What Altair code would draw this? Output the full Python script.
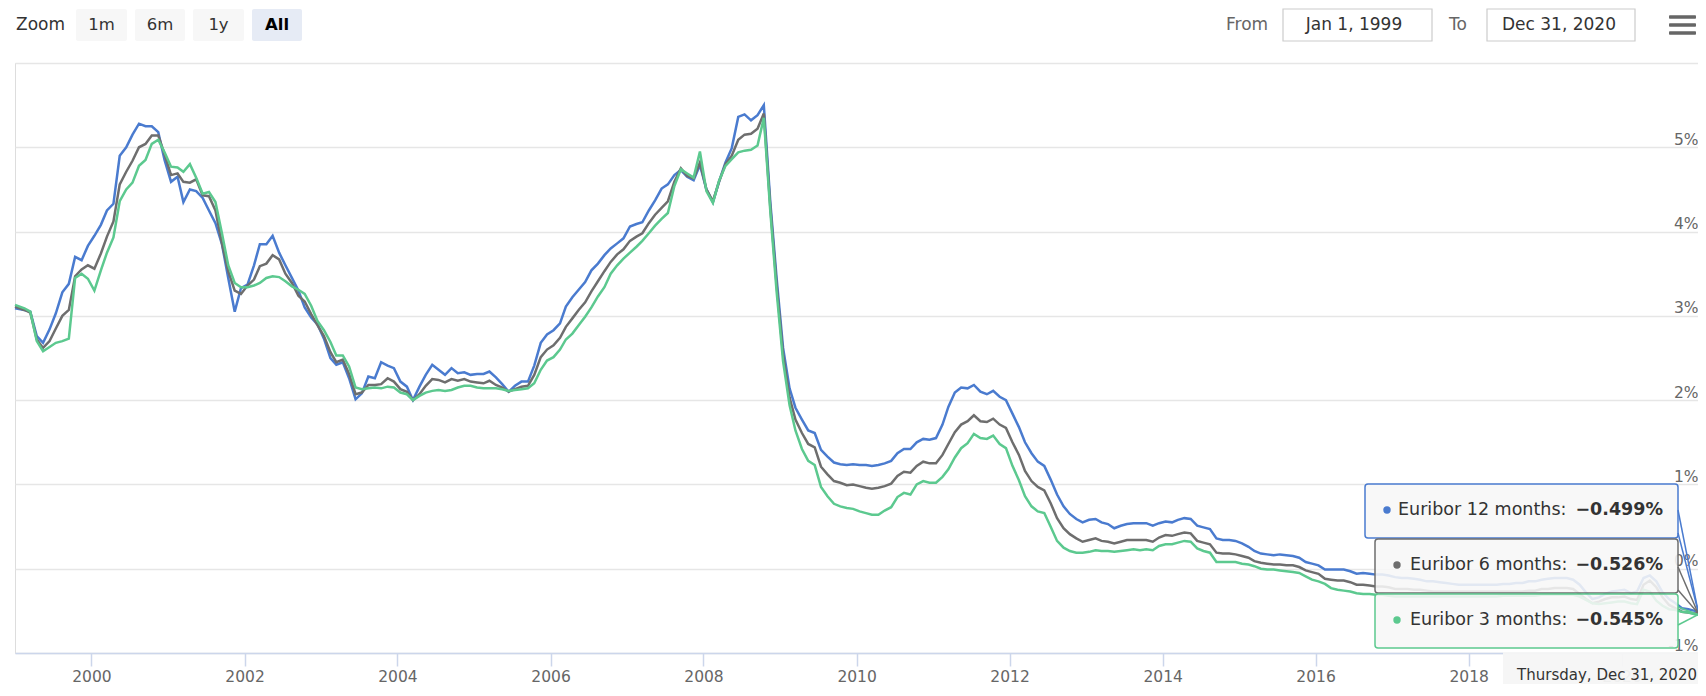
import altair as alt
import pandas as pd

FONT = "DejaVu Sans"

years = list(range(1999, 2021))
series_names = ["Euribor 12 months", "Euribor 6 months", "Euribor 3 months"]
series_colors = ["#4A7BCF", "#6E6E6E", "#5CC98F"]

# monthly readings (mid-month), 1999-2020
eur12 = [
    3.09, 3.07, 3.05, 2.76, 2.68, 2.84, 3.03, 3.28, 3.38, 3.70, 3.66, 3.83,
    3.95, 4.08, 4.25, 4.33, 4.90, 5.00, 5.15, 5.28, 5.25, 5.25, 5.18, 4.85,
    4.59, 4.65, 4.35, 4.50, 4.48, 4.40, 4.25, 4.10, 3.85, 3.45, 3.05, 3.33,
    3.37, 3.60, 3.85, 3.85, 3.95, 3.75, 3.60, 3.45, 3.30, 3.10, 2.98, 2.90,
    2.73, 2.50, 2.42, 2.45, 2.26, 2.01, 2.08, 2.28, 2.26, 2.45, 2.41, 2.38,
    2.22, 2.16, 2.00, 2.16, 2.30, 2.42, 2.36, 2.30, 2.38, 2.32, 2.33, 2.30,
    2.31, 2.31, 2.34, 2.27, 2.19, 2.10, 2.17, 2.22, 2.22, 2.41, 2.68, 2.78,
    2.83, 2.91, 3.11, 3.22, 3.31, 3.40, 3.54, 3.62, 3.72, 3.80, 3.86, 3.92,
    4.06, 4.09, 4.11, 4.25, 4.37, 4.51, 4.56, 4.67, 4.73, 4.65, 4.61, 4.79,
    4.50, 4.35, 4.59, 4.82, 4.99, 5.36, 5.39, 5.32, 5.38, 5.50, 4.35, 3.45,
    2.62, 2.14, 1.91, 1.77, 1.64, 1.61, 1.41, 1.33, 1.26, 1.24, 1.23, 1.24,
    1.23, 1.23, 1.22, 1.23, 1.25, 1.28, 1.37, 1.42, 1.42, 1.50, 1.54, 1.53,
    1.55, 1.71, 1.92, 2.09, 2.15, 2.14, 2.18, 2.10, 2.07, 2.11, 2.04, 2.00,
    1.84, 1.68, 1.50, 1.37, 1.27, 1.22, 1.06, 0.88, 0.74, 0.65, 0.59, 0.55,
    0.58, 0.59, 0.55, 0.53, 0.48, 0.51, 0.53, 0.54, 0.54, 0.54, 0.51, 0.54,
    0.56, 0.55, 0.58, 0.60, 0.59, 0.51, 0.49, 0.47, 0.36, 0.34, 0.34, 0.33,
    0.30, 0.26, 0.21, 0.18, 0.17, 0.16, 0.17, 0.16, 0.15, 0.13, 0.08, 0.06,
    0.04, -0.01, -0.01, -0.01, -0.01, -0.03, -0.06, -0.05, -0.06, -0.07, -0.07, -0.08,
    -0.10, -0.11, -0.11, -0.12, -0.13, -0.15, -0.15, -0.16, -0.17, -0.18, -0.19, -0.19,
    -0.19, -0.19, -0.19, -0.19, -0.19, -0.18, -0.18, -0.17, -0.17, -0.15, -0.15, -0.13,
    -0.12, -0.11, -0.11, -0.11, -0.13, -0.19, -0.28, -0.36, -0.34, -0.30, -0.27, -0.26,
    -0.25, -0.29, -0.27, -0.11, -0.08, -0.15, -0.28, -0.36, -0.41, -0.47, -0.48, -0.50,
]
eur6 = [
    3.11, 3.07, 3.04, 2.72, 2.62, 2.70, 2.85, 3.00, 3.07, 3.47, 3.55, 3.60,
    3.56, 3.74, 3.94, 4.12, 4.56, 4.71, 4.84, 5.00, 5.04, 5.14, 5.14, 4.92,
    4.67, 4.69, 4.59, 4.58, 4.62, 4.43, 4.42, 4.25, 3.86, 3.53, 3.30, 3.26,
    3.36, 3.43, 3.59, 3.62, 3.72, 3.67, 3.50, 3.39, 3.24, 3.17, 3.02, 2.89,
    2.76, 2.57, 2.45, 2.48, 2.31, 2.07, 2.09, 2.18, 2.18, 2.19, 2.26, 2.22,
    2.13, 2.10, 2.00, 2.07, 2.17, 2.25, 2.24, 2.21, 2.25, 2.23, 2.25, 2.22,
    2.21, 2.20, 2.23, 2.18, 2.15, 2.10, 2.13, 2.16, 2.17, 2.30, 2.51, 2.60,
    2.65, 2.74, 2.87, 2.97, 3.07, 3.16, 3.29, 3.41, 3.53, 3.64, 3.73, 3.79,
    3.89, 3.94, 3.98, 4.10, 4.20, 4.28, 4.36, 4.59, 4.75, 4.66, 4.63, 4.82,
    4.50, 4.36, 4.59, 4.80, 4.90, 5.09, 5.15, 5.16, 5.22, 5.40, 4.29, 3.37,
    2.54, 2.03, 1.77, 1.61, 1.48, 1.44, 1.21, 1.12, 1.04, 1.02, 0.99, 1.00,
    0.98, 0.96, 0.95, 0.96, 0.98, 1.01, 1.10, 1.15, 1.14, 1.22, 1.27, 1.25,
    1.25, 1.35, 1.48, 1.62, 1.71, 1.75, 1.82, 1.75, 1.74, 1.78, 1.71, 1.67,
    1.50, 1.35, 1.16, 1.04, 0.97, 0.93, 0.78, 0.60, 0.48, 0.41, 0.36, 0.32,
    0.34, 0.36, 0.33, 0.32, 0.30, 0.32, 0.34, 0.34, 0.34, 0.34, 0.32, 0.37,
    0.40, 0.39, 0.41, 0.43, 0.42, 0.33, 0.31, 0.29, 0.19, 0.18, 0.18, 0.17,
    0.15, 0.13, 0.09, 0.07, 0.06, 0.05, 0.05, 0.04, 0.04, 0.02, -0.02, -0.04,
    -0.06, -0.12, -0.13, -0.14, -0.14, -0.16, -0.19, -0.19, -0.20, -0.21, -0.21, -0.22,
    -0.24, -0.24, -0.24, -0.25, -0.25, -0.26, -0.27, -0.27, -0.27, -0.27, -0.27, -0.27,
    -0.27, -0.27, -0.27, -0.27, -0.27, -0.27, -0.27, -0.27, -0.27, -0.26, -0.26, -0.24,
    -0.24, -0.23, -0.23, -0.23, -0.24, -0.30, -0.36, -0.41, -0.39, -0.36, -0.34, -0.34,
    -0.33, -0.36, -0.37, -0.19, -0.14, -0.22, -0.34, -0.43, -0.47, -0.51, -0.52, -0.53,
]
eur3 = [
    3.13, 3.09, 3.05, 2.70, 2.58, 2.63, 2.68, 2.70, 2.73, 3.45, 3.50, 3.44,
    3.30, 3.54, 3.75, 3.93, 4.36, 4.50, 4.58, 4.78, 4.85, 5.04, 5.09, 4.94,
    4.77, 4.76, 4.71, 4.80, 4.64, 4.45, 4.47, 4.35, 3.98, 3.60, 3.39, 3.34,
    3.34, 3.36, 3.39, 3.45, 3.47, 3.46, 3.41, 3.35, 3.31, 3.26, 3.12, 2.94,
    2.83, 2.69, 2.53, 2.53, 2.40, 2.15, 2.13, 2.14, 2.15, 2.14, 2.16, 2.15,
    2.09, 2.07, 2.00, 2.05, 2.09, 2.11, 2.12, 2.11, 2.12, 2.15, 2.17, 2.17,
    2.15, 2.14, 2.14, 2.14, 2.13, 2.11, 2.12, 2.13, 2.14, 2.20, 2.36, 2.47,
    2.51, 2.60, 2.72, 2.79, 2.89, 2.99, 3.10, 3.23, 3.34, 3.50, 3.60, 3.68,
    3.75, 3.82, 3.89, 3.98, 4.07, 4.15, 4.22, 4.54, 4.74, 4.69, 4.64, 4.95,
    4.48, 4.34, 4.60, 4.78, 4.86, 4.94, 4.96, 4.97, 5.02, 5.35, 4.24, 3.29,
    2.46, 1.94, 1.64, 1.42, 1.28, 1.23, 0.97, 0.86, 0.77, 0.74, 0.72, 0.71,
    0.68, 0.66, 0.64, 0.64, 0.69, 0.73, 0.85, 0.90, 0.88, 1.00, 1.04, 1.02,
    1.02, 1.09, 1.18, 1.32, 1.43, 1.49, 1.60, 1.55, 1.54, 1.58, 1.48, 1.43,
    1.22, 1.05, 0.86, 0.74, 0.68, 0.66, 0.50, 0.33, 0.25, 0.21, 0.19, 0.19,
    0.20, 0.22, 0.21, 0.21, 0.20, 0.21, 0.22, 0.23, 0.22, 0.23, 0.22, 0.27,
    0.29, 0.29, 0.31, 0.33, 0.32, 0.24, 0.21, 0.19, 0.08, 0.08, 0.08, 0.08,
    0.06, 0.05, 0.03, 0.00, -0.01, -0.01, -0.02, -0.03, -0.04, -0.05, -0.09, -0.13,
    -0.15, -0.18, -0.23, -0.25, -0.26, -0.27, -0.29, -0.30, -0.30, -0.31, -0.31, -0.32,
    -0.33, -0.33, -0.33, -0.33, -0.33, -0.33, -0.33, -0.33, -0.33, -0.33, -0.33, -0.33,
    -0.33, -0.33, -0.33, -0.33, -0.33, -0.32, -0.32, -0.32, -0.32, -0.32, -0.32, -0.31,
    -0.31, -0.31, -0.31, -0.31, -0.31, -0.33, -0.37, -0.41, -0.42, -0.41, -0.40, -0.39,
    -0.39, -0.41, -0.42, -0.25, -0.27, -0.38, -0.44, -0.48, -0.49, -0.51, -0.52, -0.54,
]
end_date = "2020-12-31"
end_values = [-0.499, -0.526, -0.545]
tooltip_values = ["\u22120.499%", "\u22120.526%", "\u22120.545%"]
y_ticks = [-1, 0, 1, 2, 3, 4, 5, 6]
x_tick_years = list(range(2000, 2021, 2))

# ---- build table
dates = [f"{y}-{m:02d}-15" for y in years for m in range(1, 13)]
dates[0] = "1999-01-01"
rows = []
for name, vals, endv in zip(series_names, [eur12, eur6, eur3], end_values):
    for d, v in zip(dates, vals):
        rows.append({"date": d, "value": v, "series": name})
    rows.append({"date": end_date, "value": endv, "series": name})
df = pd.DataFrame(rows)

W, H = 1683, 590

x_enc = alt.X(
    "date:T",
    title=None,
    scale=alt.Scale(type="utc", domain=[alt.DateTime(year=1999, month=1, date=1, utc=True),
                                        alt.DateTime(year=2020, month=12, date=31, utc=True)]),
    axis=alt.Axis(
        values=[alt.DateTime(year=y, month=1, date=1, utc=True) for y in x_tick_years],
        labelExpr="utcFormat(datum.value, '%Y')",
        grid=False, domainColor="#ccd6eb", domainWidth=1.5,
        tickColor="#ccd6eb", tickWidth=1.5, tickSize=13,
        labelColor="#666666", labelFont=FONT, labelFontSize=15.5,
        labelBaseline="middle", labelPadding=10, labelFlush=False, labelOverlap=False,
    ),
)
y_enc = alt.Y(
    "value:Q",
    title=None,
    scale=alt.Scale(domain=[-1, 6], nice=False, zero=False),
    axis=alt.Axis(
        orient="right", values=y_ticks, grid=True, gridColor="#e6e6e6", gridWidth=1.3,
        domain=False, ticks=False, tickSize=0,
        labelAlign="right", labelBaseline="alphabetic", labelOffset=-3, labelPadding=0,
        labelExpr="datum.value >= 6 ? '' : datum.value + '%'",
        labelColor="#666666", labelFont=FONT, labelFontSize=15.5,
        labelFlush=False, labelOverlap=False,
    ),
)

lines = []
for name, col in zip(series_names, series_colors):
    lines.append(
        alt.Chart(df).transform_filter(alt.datum.series == name)
        .mark_line(color=col, strokeWidth=2.5, interpolate="linear")
        .encode(x=x_enc, y=y_enc)
    )

one = pd.DataFrame({"k": [0]})


def txt(s, x, y, size=16, color="#333333", align="left", weight="normal", font=FONT):
    return alt.Chart(one).mark_text(
        text=s, align=align, baseline="middle", font=font, fontSize=size,
        color=color, fontWeight=weight
    ).encode(x=alt.value(x), y=alt.value(y))


def box(x1, x2, y1, y2, fill, stroke=None, sw=1, radius=3, opacity=1.0):
    kw = dict(fill=fill, cornerRadius=radius, fillOpacity=opacity)
    if stroke:
        kw.update(stroke=stroke, strokeWidth=sw)
    return alt.Chart(one).mark_rect(**kw).encode(
        x=alt.value(x1), x2=alt.value(x2), y=alt.value(y1), y2=alt.value(y2))


def seg(x1, y1, x2, y2, color, sw=1.5):
    return alt.Chart(one).mark_rule(color=color, strokeWidth=sw).encode(
        x=alt.value(x1), x2=alt.value(x2), y=alt.value(y1), y2=alt.value(y2))


def dot(x, y, color):
    return alt.Chart(one).mark_circle(size=55, color=color, opacity=1).encode(
        x=alt.value(x), y=alt.value(y))


deco = []
# range selector toolbar
deco.append(txt("Zoom", 1, -38, size=17, color="#333333"))
btns = [("1m", 61, 112), ("6m", 120, 170), ("1y", 178, 229), ("All", 237, 287)]
for lab, a, b in btns:
    sel = lab == "All"
    deco.append(box(a, b, -54, -22, "#e6ebf5" if sel else "#f7f7f7", radius=2))
    deco.append(txt(lab, (a + b) / 2, -38, size=16.5, align="center",
                    color="#000000" if sel else "#333333", weight="bold" if sel else "normal"))
deco.append(txt("From", 1211, -38, size=17, color="#666666"))
deco.append(box(1268, 1417, -54, -22, "#ffffff", stroke="#cccccc", sw=1.2, radius=0))
deco.append(txt("Jan 1, 1999", 1339, -38, size=17, align="center", color="#333333"))
deco.append(txt("To", 1434, -38, size=17, color="#666666"))
deco.append(box(1472, 1620, -54, -22, "#ffffff", stroke="#cccccc", sw=1.2, radius=0))
deco.append(txt("Dec 31, 2020", 1544, -38, size=17, align="center", color="#333333"))
for yy in (-46, -38, -30):
    deco.append(box(1654, 1681, yy - 1.7, yy + 1.7, "#666666", radius=1))

# split tooltip
pt_x = W
def py(v):
    return (6 - v) / 7 * H

tips = [
    (1350, 421, 475, 1372, 1383, 447, [(1663, 447), (1663, 470)]),
    (1360, 476, 530, 1382, 1395, 502, [(1663, 504), (1663, 527)]),
    (1360, 531, 585, 1382, 1395, 557, [(1663, 544), (1663, 562)]),
]
for (bx, by1, by2, dx, tx, ty, anchors), name, col, tv, ev in zip(
        tips, series_names, series_colors, tooltip_values, end_values):
    deco.append(box(bx, 1663, by1, by2, "#f7f7f7", stroke=col, sw=1.5, radius=3, opacity=0.88))
    for ax, ay in anchors:
        deco.append(seg(ax, ay, pt_x, py(ev), col, sw=1.5))
    deco.append(dot(dx, ty, col))
    deco.append(txt(name + ":", tx, ty, size=17.5, color="#333333"))
    deco.append(txt(tv, 1648, ty, size=17.5, color="#333333", align="right", weight="bold"))

# crosshair date label
deco.append(box(1488, 1690, 589, 640, "#f5f5f5", radius=0, opacity=0.95))
deco.append(txt("Thursday, Dec 31, 2020", 1682, 612, size=15, color="#333333", align="right"))

chart = alt.layer(*lines, *deco).properties(
    width=W, height=H,
    padding={"left": 7, "top": 55, "right": 0, "bottom": 31},
    autosize=alt.AutoSizeParams(type="none"),
).configure_view(stroke=None).configure(background="#ffffff")

chart.save("out.html", embed_options={"renderer": "svg", "actions": False})
